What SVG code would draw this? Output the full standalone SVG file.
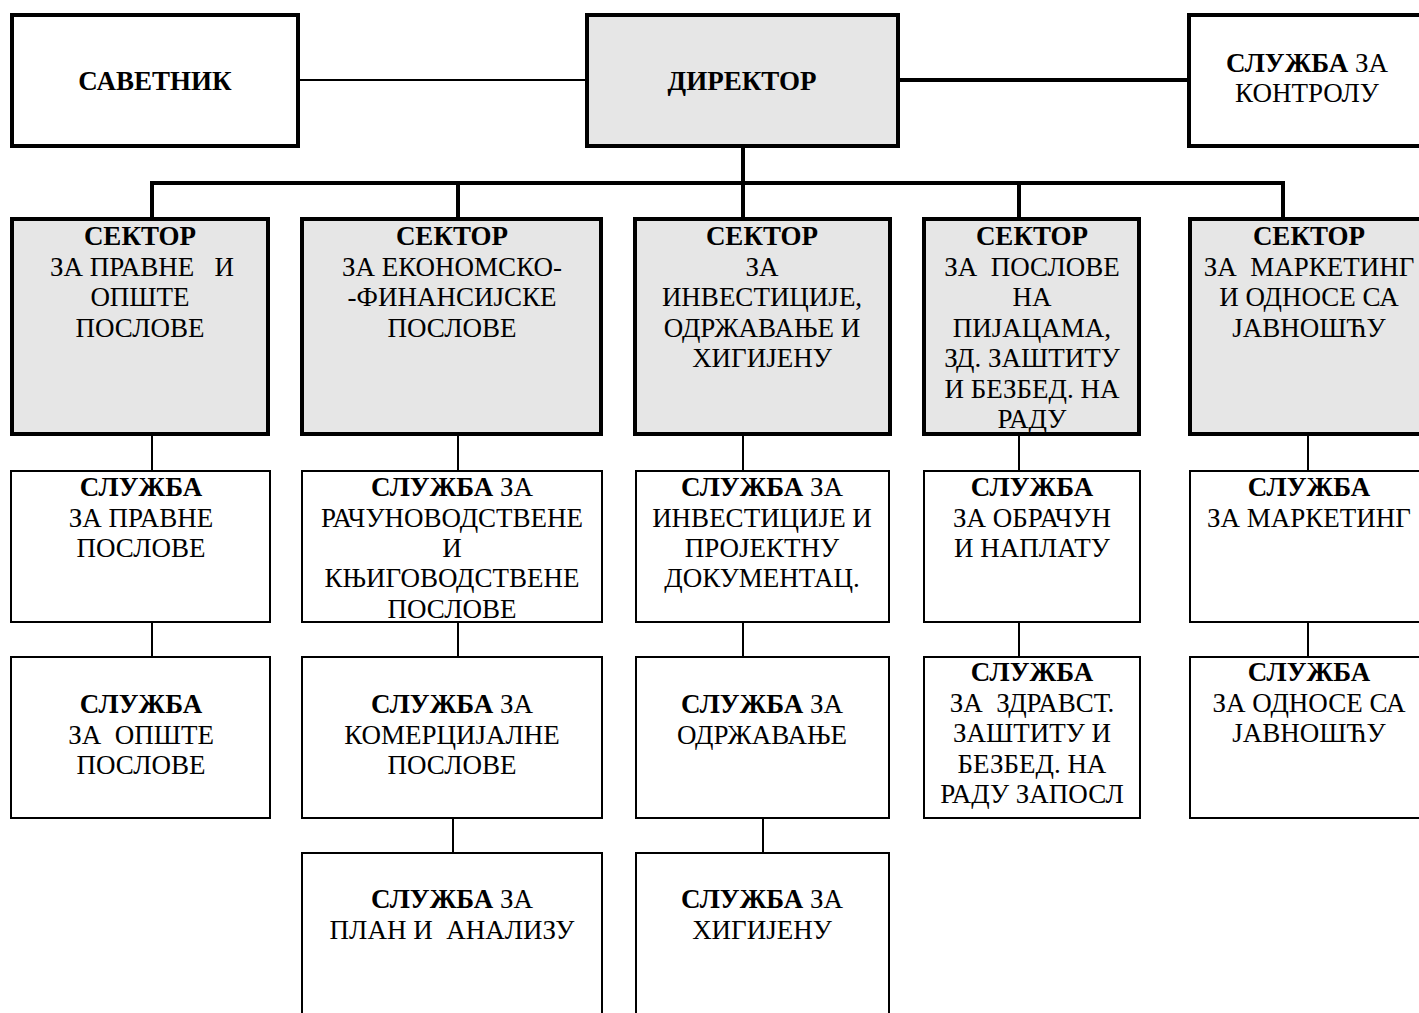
<svg xmlns="http://www.w3.org/2000/svg" width="1419" height="1013" viewBox="0 0 1419 1013">
<style>
.t{font-family:"Liberation Serif","Times New Roman",serif;font-size:27px;fill:#000;text-anchor:middle;white-space:pre}
.b{font-weight:bold}
.thick{fill:#fff;stroke:#000;stroke-width:4}
.gray{fill:#e6e6e6;stroke:#000;stroke-width:4}
.thin{fill:#fff;stroke:#000;stroke-width:2}
.c2{stroke:#000;stroke-width:2;fill:none}
.c4{stroke:#000;stroke-width:4;fill:none;stroke-linejoin:miter}
</style>
<rect width="1419" height="1013" fill="#fff"/>
<g id="connectors">
<line class="c2" x1="300" y1="80" x2="585" y2="80"/>
<line class="c4" x1="900" y1="80" x2="1187" y2="80"/>
<line class="c4" x1="743" y1="148" x2="743" y2="218"/>
<path class="c4" d="M152 218 V183 H1283 V218"/>
<line class="c4" x1="458" y1="183" x2="458" y2="218"/>
<line class="c4" x1="1019" y1="183" x2="1019" y2="218"/>
<path class="c2" d="M152 436 V470 M458 436 V470 M743 436 V470 M1019 436 V470 M1308 436 V470"/>
<path class="c2" d="M152 623 V656 M458 623 V656 M743 623 V656 M1019 623 V656 M1308 623 V656"/>
<path class="c2" d="M453 819 V852 M763 819 V852"/>
</g>
<g id="savetnik"><rect class="thick" x="12" y="15" width="286" height="131"/><text class="t b" x="155" y="90">САВЕТНИК</text></g>
<g id="direktor"><rect class="gray" x="587" y="15" width="311" height="131"/><text class="t b" x="742" y="90">ДИРЕКТОР</text></g>
<g id="kontrola"><rect class="thick" x="1189" y="15" width="260" height="131"/><text class="t" x="1307" y="72"><tspan class="b">СЛУЖБА</tspan> ЗА</text><text class="t" x="1307" y="102">КОНТРОЛУ</text></g>

<g id="sektor1"><rect class="gray" x="12" y="219" width="256" height="215"/>
<text class="t b" x="140" y="245">СЕКТОР</text><text class="t" x="142" y="275.5">ЗА ПРАВНЕ   И</text><text class="t" x="140" y="306">ОПШТЕ</text><text class="t" x="140" y="336.5">ПОСЛОВЕ</text></g>
<g id="sektor2"><rect class="gray" x="302" y="219" width="299" height="215"/>
<text class="t b" x="452" y="245">СЕКТОР</text><text class="t" x="452" y="275.5">ЗА ЕКОНОМСКО-</text><text class="t" x="452" y="306">-ФИНАНСИЈСКЕ</text><text class="t" x="452" y="336.5">ПОСЛОВЕ</text></g>
<g id="sektor3"><rect class="gray" x="635" y="219" width="255" height="215"/>
<text class="t b" x="762" y="245">СЕКТОР</text><text class="t" x="762" y="275.5">ЗА</text><text class="t" x="762" y="306">ИНВЕСТИЦИЈЕ,</text><text class="t" x="762" y="336.5">ОДРЖАВАЊЕ И</text><text class="t" x="762" y="367">ХИГИЈЕНУ</text></g>
<g id="sektor4"><rect class="gray" x="924" y="219" width="215" height="215"/>
<text class="t b" x="1032" y="245">СЕКТОР</text><text class="t" x="1032" y="275.5">ЗА  ПОСЛОВЕ</text><text class="t" x="1032" y="306">НА</text><text class="t" x="1032" y="336.5">ПИЈАЦАМА,</text><text class="t" x="1032" y="367">ЗД. ЗАШТИТУ</text><text class="t" x="1032" y="397.5">И БЕЗБЕД. НА</text><text class="t" x="1032" y="428">РАДУ</text></g>
<g id="sektor5"><rect class="gray" x="1190" y="219" width="260" height="215"/>
<text class="t b" x="1309" y="245">СЕКТОР</text><text class="t" x="1309" y="275.5">ЗА  МАРКЕТИНГ</text><text class="t" x="1309" y="306">И ОДНОСЕ СА</text><text class="t" x="1309" y="336.5">ЈАВНОШЋУ</text></g>

<g id="sl-pravne"><rect class="thin" x="11" y="471" width="259" height="151"/>
<text class="t b" x="141" y="496">СЛУЖБА</text><text class="t" x="141" y="526.5">ЗА ПРАВНЕ</text><text class="t" x="141" y="557">ПОСЛОВЕ</text></g>
<g id="sl-racunovodstvene"><rect class="thin" x="302" y="471" width="300" height="151"/>
<text class="t" x="452" y="496"><tspan class="b">СЛУЖБА</tspan> ЗА</text><text class="t" x="452" y="526.5">РАЧУНОВОДСТВЕНЕ</text><text class="t" x="452" y="557">И</text><text class="t" x="452" y="587">КЊИГОВОДСТВЕНЕ</text><text class="t" x="452" y="617.5">ПОСЛОВЕ</text></g>
<g id="sl-investicije"><rect class="thin" x="636" y="471" width="253" height="151"/>
<text class="t" x="762" y="496"><tspan class="b">СЛУЖБА</tspan> ЗА</text><text class="t" x="762" y="526.5">ИНВЕСТИЦИЈЕ И</text><text class="t" x="762" y="557">ПРОЈЕКТНУ</text><text class="t" x="762" y="587">ДОКУМЕНТАЦ.</text></g>
<g id="sl-obracun"><rect class="thin" x="924" y="471" width="216" height="151"/>
<text class="t b" x="1032" y="496">СЛУЖБА</text><text class="t" x="1032" y="526.5">ЗА ОБРАЧУН</text><text class="t" x="1032" y="557">И НАПЛАТУ</text></g>
<g id="sl-marketing"><rect class="thin" x="1190" y="471" width="260" height="151"/>
<text class="t b" x="1309" y="496">СЛУЖБА</text><text class="t" x="1309" y="526.5">ЗА МАРКЕТИНГ</text></g>

<g id="sl-opste"><rect class="thin" x="11" y="657" width="259" height="161"/>
<text class="t b" x="141" y="713">СЛУЖБА</text><text class="t" x="141" y="743.5">ЗА  ОПШТЕ</text><text class="t" x="141" y="774">ПОСЛОВЕ</text></g>
<g id="sl-komercijalne"><rect class="thin" x="302" y="657" width="300" height="161"/>
<text class="t" x="452" y="713"><tspan class="b">СЛУЖБА</tspan> ЗА</text><text class="t" x="452" y="743.5">КОМЕРЦИЈАЛНЕ</text><text class="t" x="452" y="774">ПОСЛОВЕ</text></g>
<g id="sl-odrzavanje"><rect class="thin" x="636" y="657" width="253" height="161"/>
<text class="t" x="762" y="713"><tspan class="b">СЛУЖБА</tspan> ЗА</text><text class="t" x="762" y="743.5">ОДРЖАВАЊЕ</text></g>
<g id="sl-zdravstvena"><rect class="thin" x="924" y="657" width="216" height="161"/>
<text class="t b" x="1032" y="681">СЛУЖБА</text><text class="t" x="1032" y="711.5">ЗА  ЗДРАВСТ.</text><text class="t" x="1032" y="742">ЗАШТИТУ И</text><text class="t" x="1032" y="772.5">БЕЗБЕД. НА</text><text class="t" x="1032" y="803">РАДУ ЗАПОСЛ</text></g>
<g id="sl-odnosi"><rect class="thin" x="1190" y="657" width="260" height="161"/>
<text class="t b" x="1309" y="681">СЛУЖБА</text><text class="t" x="1309" y="711.5">ЗА ОДНОСЕ СА</text><text class="t" x="1309" y="742">ЈАВНОШЋУ</text></g>

<g id="sl-plan"><rect class="thin" x="302" y="853" width="300" height="200"/>
<text class="t" x="452" y="908"><tspan class="b">СЛУЖБА</tspan> ЗА</text><text class="t" x="452" y="938.5">ПЛАН И  АНАЛИЗУ</text></g>
<g id="sl-higijena"><rect class="thin" x="636" y="853" width="253" height="200"/>
<text class="t" x="762" y="908"><tspan class="b">СЛУЖБА</tspan> ЗА</text><text class="t" x="762" y="938.5">ХИГИЈЕНУ</text></g>
</svg>
